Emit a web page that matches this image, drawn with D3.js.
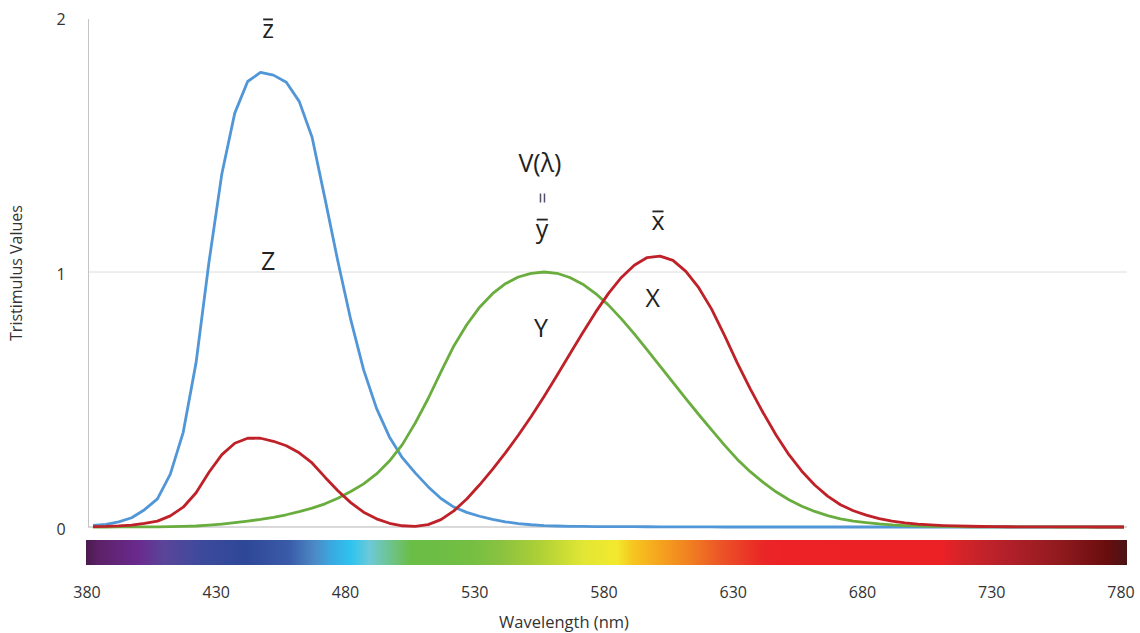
<!DOCTYPE html>
<html>
<head>
<meta charset="utf-8">
<script src="https://cdn.jsdelivr.net/npm/d3@7"></script>
<style>
  html, body { margin: 0; padding: 0; background: #fff; }
  svg { display: block; font-family: "Open Sans", "Noto Sans", sans-serif; }
</style>
</head>
<body>
<svg id="chart" width="1140" height="633"></svg>
<script>
// ---- data: CIE 1931 2° colour matching functions, 5 nm steps ----
const wavelengths = d3.range(380, 781, 5);
const xBar = [0.001368,0.002236,0.004243,0.00765,0.01431,0.02319,0.04351,0.07763,0.13438,0.21477,0.2839,0.3285,0.34828,0.34806,0.3362,0.3187,0.2908,0.2511,0.19536,0.1421,0.09564,0.05795,0.03201,0.0147,0.0049,0.0024,0.0093,0.0291,0.06327,0.1096,0.1655,0.22575,0.2904,0.3597,0.43345,0.51205,0.5945,0.6784,0.7621,0.8425,0.9163,0.9786,1.0263,1.0567,1.0622,1.0456,1.0026,0.9384,0.85445,0.7514,0.6424,0.5419,0.4479,0.3608,0.2835,0.2187,0.1649,0.1212,0.0874,0.0636,0.04677,0.0329,0.0227,0.01584,0.011359,0.008111,0.00579,0.004109,0.002899,0.002049,0.00144,0.001,0.00069,0.000476,0.000332,0.000235,0.000166,0.000117,0.000083,0.000059,0.000042];
const yBar = [0.000039,0.000064,0.00012,0.000217,0.000396,0.00064,0.00121,0.00218,0.004,0.0073,0.0116,0.01684,0.023,0.0298,0.038,0.048,0.06,0.0739,0.09098,0.1126,0.13902,0.1693,0.20802,0.2586,0.323,0.4073,0.503,0.6082,0.71,0.7932,0.862,0.91485,0.954,0.9803,0.99495,1.0,0.995,0.9786,0.952,0.9154,0.87,0.8163,0.757,0.6949,0.631,0.5668,0.503,0.4412,0.381,0.321,0.265,0.217,0.175,0.1382,0.107,0.0816,0.061,0.04458,0.032,0.0232,0.017,0.01192,0.00821,0.005723,0.004102,0.002929,0.002091,0.001484,0.001047,0.00074,0.00052,0.000361,0.000249,0.000172,0.00012,0.000085,0.00006,0.000042,0.00003,0.000021,0.000015];
const zBar = [0.00645,0.01055,0.02005,0.03621,0.06785,0.1102,0.2074,0.3713,0.6456,1.03905,1.3856,1.62296,1.74706,1.7826,1.77211,1.7441,1.6692,1.5281,1.28764,1.0419,0.81295,0.6162,0.46518,0.3533,0.272,0.2123,0.1582,0.1117,0.07825,0.05725,0.04216,0.02984,0.0203,0.0134,0.00875,0.00575,0.0039,0.00275,0.0021,0.0018,0.00165,0.0014,0.0011,0.001,0.0008,0.0006,0.00034,0.00024,0.00019,0.0001,0.00005,0.00003,0.00002,0.00001,0,0,0,0,0,0,0,0,0,0,0,0,0,0,0,0,0,0,0,0,0,0,0,0,0,0,0];

const xTickLabels = [380, 430, 480, 530, 580, 630, 680, 730, 780];
const yTickLabels = [0, 1, 2];

// spectrum colour bar stops: [wavelength position, colour]
const spectrumStops = [
  [380,"#4b1a4f"],[385,"#5c2168"],[400,"#6a2a8e"],[410,"#5a4599"],[424,"#3d4a9c"],
  [441,"#2e4797"],[458,"#3a5ba8"],[468,"#4d8ac6"],[474,"#3aa8e0"],[482,"#2ec4ef"],
  [489,"#6dc9d8"],[499,"#6ec27a"],[505,"#6abd45"],[513,"#6cbd45"],[528,"#75bf43"],
  [540,"#8bc23f"],[555,"#b0d136"],[571,"#e2e634"],[584,"#f2e92d"],[590,"#f6c61f"],
  [601,"#f5a21e"],[613,"#f07c21"],[624,"#ec5427"],[640,"#ea2626"],[648,"#ed2227"],
  [708,"#ec2126"],[718,"#d02429"],[733,"#b4202a"],[753,"#921b1f"],[772,"#6a0d0e"],[780,"#4a1416"]
];

// curve labels: text, overline?, anchor wavelength, anchor value (baseline)
const labels = [
  {t:"z", over:true,  w:447.9, v:1.918},
  {t:"Z", over:false, w:448.0, v:1.008},
  {t:"V(λ)", over:false, w:553.4, v:1.392},
  {t:"y", over:true,  w:554.2, v:1.133},
  {t:"x", over:true,  w:599.2, v:1.165},
  {t:"X", over:false, w:597.2, v:0.863},
  {t:"Y", over:false, w:553.8, v:0.745}
];

const svg = d3.select("#chart");

const x = d3.scaleLinear().domain([380, 780]).range([93, 1124]);
const xt = d3.scaleLinear().domain([380, 780]).range([87, 1121]);
const y = d3.scaleLinear().domain([0, 2]).range([527, 17]);

// gridline at 1
svg.append("line").attr("x1", 88).attr("x2", 1127)
  .attr("y1", y(1)).attr("y2", y(1))
  .attr("stroke", "#dcdcdc").attr("stroke-width", 1);
// baseline
svg.append("line").attr("x1", 88).attr("x2", 1127)
  .attr("y1", y(0)).attr("y2", y(0))
  .attr("stroke", "#d9d9d9").attr("stroke-width", 2);
// y axis line
svg.append("line").attr("x1", 88.5).attr("x2", 88.5)
  .attr("y1", 19).attr("y2", y(0))
  .attr("stroke", "#c4c4c4").attr("stroke-width", 1);

// y tick labels
svg.selectAll(".ytick").data(yTickLabels).enter().append("text")
  .attr("x", 61).attr("y", d => y(d) + 8)
  .attr("text-anchor", "middle").attr("font-size", 16).attr("fill", "#333")
  .text(d => d);

// curves
const line = d3.line().x((d, i) => x(wavelengths[i])).y(d => y(d));
const series = [
  {vals: zBar, color: "#5196d6"},
  {vals: yBar, color: "#6aad3f"},
  {vals: xBar, color: "#bf2128"}
];
series.forEach(s => {
  svg.append("path").datum(s.vals).attr("d", line)
    .attr("fill", "none").attr("stroke", s.color)
    .attr("stroke-width", 2.8).attr("stroke-linejoin", "round");
});

// colour bar
const defs = svg.append("defs");
const grad = defs.append("linearGradient").attr("id", "spec")
  .attr("x1", "0%").attr("x2", "100%").attr("y1", "0%").attr("y2", "0%");
grad.selectAll("stop").data(spectrumStops).enter().append("stop")
  .attr("offset", d => ((d[0] - 380) / 400 * 100) + "%")
  .attr("stop-color", d => d[1]);
svg.append("rect").attr("x", 86).attr("y", 540).attr("width", 1041).attr("height", 25)
  .attr("fill", "url(#spec)");

// x tick labels
svg.selectAll(".xtick").data(xTickLabels).enter().append("text")
  .attr("x", d => xt(d)).attr("y", 598)
  .attr("text-anchor", "middle").attr("font-size", 16).attr("fill", "#333")
  .text(d => d);

// axis titles
svg.append("text").attr("x", 564).attr("y", 628).attr("text-anchor", "middle")
  .attr("font-size", 16.5).attr("fill", "#333").text("Wavelength (nm)");
svg.append("text").attr("transform", "translate(22,273) rotate(-90)")
  .attr("text-anchor", "middle").attr("font-size", 16).attr("fill", "#333")
  .text("Tristimulus Values");

// curve labels
const labelSize = 25;
labels.forEach(l => {
  const tx = x(l.w), ty = y(l.v);
  const t = svg.append("text").attr("x", tx).attr("y", ty)
    .attr("text-anchor", "middle").attr("font-size", labelSize).attr("fill", "#222")
    .text(l.t);
  if (l.over) {
    const bb = t.node().getBBox();
    const oy = ty - labelSize * 0.74;
    svg.append("line").attr("x1", bb.x + 1).attr("x2", bb.x + bb.width - 1)
      .attr("y1", oy).attr("y2", oy).attr("stroke", "#222").attr("stroke-width", 1.8);
  }
});
// rotated equals sign between V(λ) and y-bar
svg.append("text").attr("transform", `translate(${x(554) - 6},${y(1.29)}) rotate(90)`)
  .attr("text-anchor", "middle").attr("font-size", 20).attr("fill", "#444").text("=");
</script>
</body>
</html>
